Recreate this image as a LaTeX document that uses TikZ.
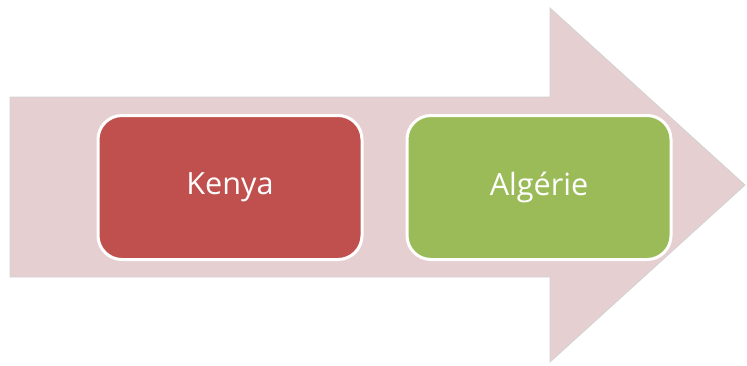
\documentclass[tikz,border=0pt]{standalone}
\usepackage{fontspec}
\setmainfont{Open Sans}
\usepackage{xcolor,tikz}
\usetikzlibrary{positioning}
\definecolor{arrowpink}{HTML}{E6CFD0}
\definecolor{kenyared}{HTML}{C0504D}
\definecolor{algeriagreen}{HTML}{9BBB59}
\tikzset{
  country/.style={draw=white, line width=1.5pt, rounded corners=12pt, minimum width=132pt, minimum height=72pt, text=white, font=\fontsize{15.3}{18}\selectfont}
}

\begin{document}
\begin{tikzpicture}[x=0.5pt,y=-0.5pt]
\useasboundingbox (0,0) rectangle (747,365);
\draw[draw=gray!35, line width=0.4pt, fill=arrowpink] (10,97) -- (550,97) -- (550,8) -- (745,185) -- (550,362) -- (550,277) -- (10,277) -- cycle;
%%%%
\node[country, fill=kenyared] (kenya) at (230,187.5) {Kenya};
\node[country, fill=algeriagreen, right=21pt of kenya] (algerie) {Algérie};
\end{tikzpicture}
\end{document}
